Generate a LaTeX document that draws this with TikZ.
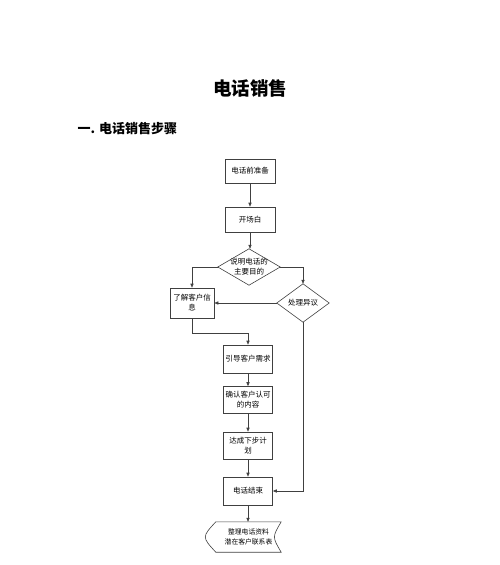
\documentclass[tikz,border=0pt]{standalone}
\usepackage{fontspec}
\setmainfont{Noto Sans CJK SC}
\usetikzlibrary{arrows.meta}
\begin{document}
\begin{tikzpicture}[x=1pt,y=-1pt,
  line/.style={draw=black!75, line width=0.6pt},
  box/.style={line, minimum width=49pt, minimum height=27pt, inner sep=1pt, align=center, font=\fontsize{7.5}{10}\selectfont},
  dtext/.style={inner sep=0pt, align=center, font=\fontsize{7.5}{10}\selectfont},
  arr/.style={line, -{Triangle[length=4pt,width=3.2pt]}}]
\useasboundingbox (0,0) rectangle (500,565);
\node[font=\fontsize{18.5}{20}\bfseries\selectfont] (title) at (250,88) {电话销售};
\node[font=\fontsize{13}{15}\bfseries\selectfont, anchor=west] (head) at (74,129) {一. 电话销售步骤};

\node[box, minimum width=50pt, minimum height=24pt] (b1) at (250,171) {电话前准备};
\node[box, minimum width=50pt, minimum height=25pt] (b2) at (250,219.5) {开场白};
\node[dtext, minimum width=62pt, minimum height=36pt] (d1) at (249,267) {说明电话的\\主要目的};
\draw[line] (d1.north) -- (d1.east) -- (d1.south) -- (d1.west) -- cycle;
\node[box, minimum width=44pt, minimum height=30pt] (b3) at (192,303) {了解客户信\\息};
\node[dtext, minimum width=52pt, minimum height=38pt] (d2) at (303,303) {处理异议};
\draw[line] (d2.north) -- (d2.east) -- (d2.south) -- (d2.west) -- cycle;
\node[box, minimum height=28pt] (b4) at (248,359) {引导客户需求};
\node[box] (b5) at (248,400) {确认客户认可\\的内容};
\node[box] (b6) at (248,445.5) {达成下步计\\划};
\node[box, minimum height=28pt] (b7) at (248,491) {电话结束};
\node[dtext, minimum width=65pt, minimum height=30pt, font=\fontsize{6.8}{10}\selectfont] (s) at (248.5,537) {整理电话资料\\潜在客户联系表};
\draw[line] (s.north west) .. controls ([xshift=-14pt]s.west) .. (s.south west) -- (s.south east) .. controls ([xshift=-9pt]s.east) .. (s.north east) -- cycle;

\draw[arr] (b1) -- (b2);
\draw[arr] (b2.south) -- (b2.south |- d1.north);
\draw[arr] (d1.west) -| (b3.north);
\draw[arr] (d1.east) -| (d2.north);
\draw[arr] (d2.west) -- (b3.east);
\draw[arr] (b3.south) -- ++(0,15) -| (b4.north);
\draw[arr] (b4) -- (b5);
\draw[arr] (b5) -- (b6);
\draw[arr] (b6) -- (b7);
\draw[arr] (b7.south) -- (b7.south |- s.north);
\draw[arr] (d2.south) |- (b7.east);
\end{tikzpicture}
\end{document}
